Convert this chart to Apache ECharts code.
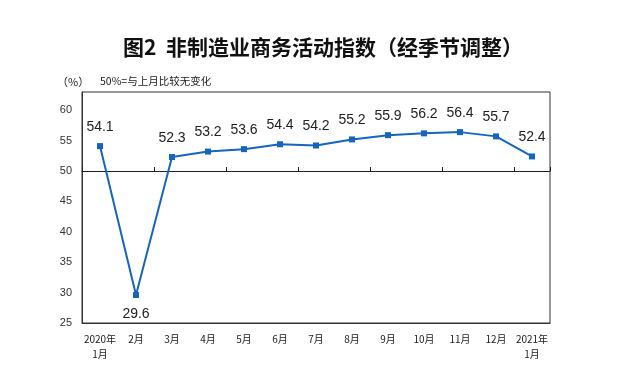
<!DOCTYPE html>
<html>
<head>
<meta charset="utf-8">
<script src="https://cdn.jsdelivr.net/npm/echarts@6/dist/echarts.min.js"></script>
<style>
html,body{margin:0;padding:0;background:#fff;}
#c{width:625px;height:382px;}
</style>
</head>
<body>
<div id="c"></div>
<script>
const categories = ['2020年\n1月','2月','3月','4月','5月','6月','7月','8月','9月','10月','11月','12月','2021年\n1月'];
const values = [54.1, 29.6, 52.3, 53.2, 53.6, 54.4, 54.2, 55.2, 55.9, 56.2, 56.4, 55.7, 52.4];
const yMin = 25, yMax = 63, yInterval = 5;
const baseline = 50;

const gridTop = 92, gridBottom = 59, gridLeft = 82, gridRight = 75;
const gridHeight = 382 - gridTop - gridBottom;
const baseOffset = -(baseline - yMin) / (yMax - yMin) * gridHeight;

const chart = echarts.init(document.getElementById('c'), null, {renderer:'canvas'});
const numFont = '"Liberation Sans", Arial, "Noto Sans CJK SC", sans-serif';
const minIdx = values.indexOf(Math.min(...values));
const seriesData = values.map((v, i) => i === minIdx ? {value: v, label: {position: 'bottom', distance: 9}} : v);

chart.setOption({
  animation: false,
  backgroundColor: '#fff',
  title: [
    {text: '图2  非制造业商务活动指数（经季节调整）', left: 118, top: 32,
     textStyle: {fontFamily: '"Noto Sans CJK SC", sans-serif', fontSize: 21, fontWeight: 'bold', color: '#111'}},
    {text: '（%）', left: 52, top: 71,
     textStyle: {fontFamily: '"Noto Sans CJK SC", sans-serif', fontSize: 11, fontWeight: 'normal', color: '#222'}},
    {text: '50%=与上月比较无变化', left: 95, top: 71,
     textStyle: {fontFamily: '"Noto Sans CJK SC", sans-serif', fontSize: 10.5, fontWeight: 'normal', color: '#222'}}
  ],
  grid: {left: gridLeft, right: gridRight, top: gridTop, bottom: gridBottom, show: true, borderColor: '#333', borderWidth: 1, containLabel: false},
  xAxis: [
    {type: 'category', data: categories, boundaryGap: true, position: 'bottom',
     axisLine: {show: true, lineStyle: {color: '#333'}},
     axisTick: {show: false},
     axisLabel: {interval: 0, fontSize: 10, color: '#222', fontFamily: '"Noto Sans CJK SC", sans-serif', margin: 9, lineHeight: 15}},
    {type: 'category', data: categories, boundaryGap: true, position: 'bottom', offset: baseOffset,
     axisLine: {show: true, lineStyle: {color: '#222', width: 1}},
     axisTick: {show: true, inside: true, length: 4, lineStyle: {color: '#222'}},
     axisLabel: {show: false}}
  ],
  yAxis: {type: 'value', min: yMin, max: yMax, interval: yInterval,
    axisLine: {show: true, lineStyle: {color: '#333'}},
    axisTick: {show: false},
    splitLine: {show: false},
    axisLabel: {fontSize: 11, color: '#333', fontFamily: numFont, margin: 10,
      formatter: v => (v % 5 === 0 ? String(v) : '')}},
  series: [{
    type: 'line', data: seriesData, xAxisIndex: 0,
    symbol: 'rect', symbolSize: 6,
    lineStyle: {color: '#1565C0', width: 2},
    itemStyle: {color: '#1565C0'},
    label: {show: true, position: 'top', distance: 9, fontSize: 14, color: '#222', fontFamily: numFont,
      formatter: p => Number(p.value).toFixed(1)},
    labelLayout: {hideOverlap: false}
  }]
});
</script>
</body>
</html>
